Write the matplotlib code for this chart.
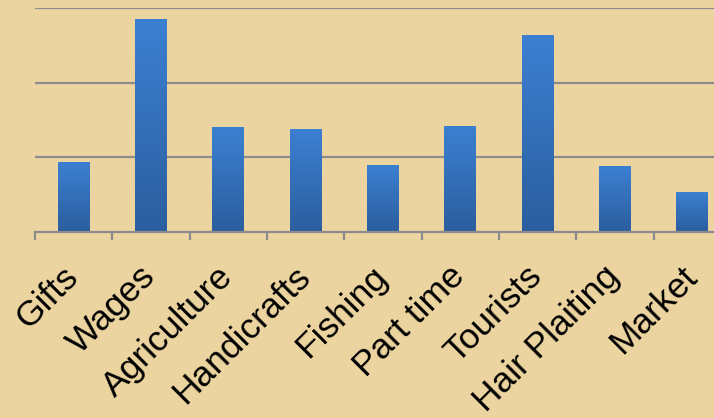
import matplotlib
matplotlib.use("Agg")
import matplotlib.pyplot as plt
import matplotlib.transforms as mtransforms
import numpy as np
from matplotlib.colors import LinearSegmentedColormap

categories = ["Gifts", "Wages", "Agriculture", "Handicrafts", "Fishing",
              "Part time", "Tourists", "Hair Plaiting", "Market"]
values = [9.4, 28.5, 14.1, 13.8, 9.0, 14.2, 26.4, 8.8, 5.4]
grid_levels = [10, 20, 30]

W, H = 714, 418
fig = plt.figure(figsize=(W / 100, H / 100), dpi=100)
bg = "#EBD49F"
fig.patch.set_facecolor(bg)
ax = fig.add_axes([35 / W, 1 - 232 / H, (731 - 35) / W, (232 - 8) / H])
ax.set_facecolor("none")

x = np.arange(len(categories))
bars = ax.bar(x, values, width=0.41, color="#3470BC", zorder=3)

grad = np.linspace(0, 1, 256).reshape(-1, 1)
cmap = LinearSegmentedColormap.from_list("g", ["#2B5E9E", "#3C80D2"])
for b in bars:
    x0, y0 = b.get_x(), b.get_y()
    w, h = b.get_width(), b.get_height()
    im = ax.imshow(grad, extent=[x0, x0 + w, y0, y0 + h], origin="lower",
                   cmap=cmap, aspect="auto", zorder=4)
    im.set_clip_path(b)

ax.set_xlim(-0.5, len(categories) - 0.5)
ax.set_ylim(0, 30)
for g in grid_levels:
    ax.axhline(g, color="#8C8C8C", lw=1.6, zorder=1)

for s in ["left", "right", "top"]:
    ax.spines[s].set_visible(False)
ax.spines["bottom"].set_color("#8C8C8C")
ax.spines["bottom"].set_linewidth(1.6)
ax.spines["bottom"].set_zorder(5)

ax.set_yticks([])
ax.set_xticks(x)
ax.set_xticks(np.arange(len(categories) + 1) - 0.5, minor=True)
ax.tick_params(axis="x", which="major", length=0, pad=20)
ax.tick_params(axis="x", which="minor", length=6, width=1.6, color="#8C8C8C")
ax.set_xticklabels(categories, rotation=45, ha="right",
                   fontsize=25.5, family="Liberation Sans", color="black")
offset = mtransforms.ScaledTranslation(11 / 100, 0, fig.dpi_scale_trans)
for lbl in ax.get_xticklabels():
    lbl.set_transform(lbl.get_transform() + offset)

fig.savefig("out.png", dpi=100, facecolor=bg)
